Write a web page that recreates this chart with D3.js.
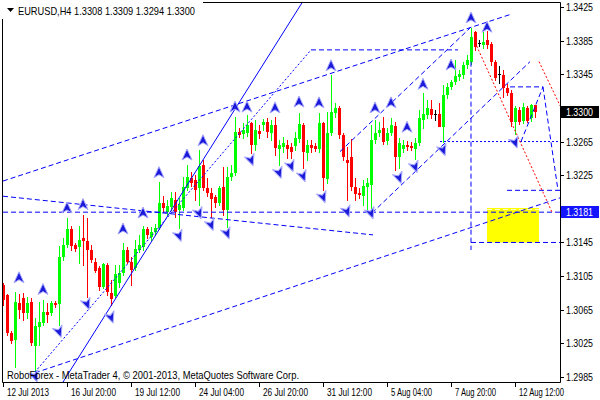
<!DOCTYPE html>
<html><head><meta charset="utf-8">
<script src="https://cdn.jsdelivr.net/npm/d3@7/dist/d3.min.js"></script>
<style>body{margin:0;background:#fff}svg{display:block}</style>
</head><body>
<svg id="c" width="600" height="400"></svg>
<script>
// ---------- DATA ----------
const headerText = "EURUSD,H4  1.3308 1.3309 1.3294 1.3300";
const footerText = "RoboForex - MetaTrader 4, \u00A9 2001-2013, MetaQuotes Software Corp.";

const opens = [1.3094,1.3083,1.3037,1.3029,1.3073,1.3079,1.3061,1.3074,1.3022,1.3045,
1.3049,1.3062,1.3061,1.3073,1.3072,1.3128,1.3142,1.3161,1.3142,1.3139,
1.3150,1.3147,1.3136,1.3122,1.3115,1.3092,1.3118,1.3085,1.3081,1.3097,
1.3109,1.3136,1.3122,1.3115,1.3136,1.3140,1.3161,1.3152,1.3158,1.3162,
1.3192,1.3181,1.3187,1.3196,1.3184,1.3186,1.3210,1.3222,1.3219,1.3210,
1.3237,1.3210,1.3204,1.3199,1.3192,1.3211,1.3184,1.3223,1.3228,1.3276,
1.3274,1.3275,1.3287,1.3261,1.3277,1.3285,1.3288,1.3275,1.3285,1.3256,
1.3259,1.3261,1.3259,1.3260,1.3268,1.3285,1.3251,1.3261,1.3260,1.3256,
1.3287,1.3221,1.3275,1.3299,1.3305,1.3273,1.3243,1.3247,1.3211,1.3204,
1.3200,1.3211,1.3213,1.3267,1.3275,1.3281,1.3266,1.3275,1.3284,1.3247,
1.3256,1.3261,1.3260,1.3256,1.3263,1.3291,1.3297,1.3304,1.3298,1.3298,
1.3282,1.3320,1.3330,1.3336,1.3342,1.3344,1.3356,1.3360,1.3395,1.3382,
1.3380,1.3386,1.3381,1.3360,1.3345,1.3344,1.3329,1.3323,1.3288,1.3302,
1.3289,1.3305,1.3293,1.3308];
const highs = [1.3097,1.3084,1.3040,1.3086,1.3084,1.3085,1.3080,1.3079,1.3055,1.3074,
1.3077,1.3073,1.3075,1.3075,1.3141,1.3150,1.3174,1.3164,1.3144,1.3164,
1.3178,1.3174,1.3142,1.3127,1.3117,1.3121,1.3121,1.3100,1.3118,1.3118,
1.3144,1.3139,1.3128,1.3148,1.3154,1.3165,1.3163,1.3163,1.3167,1.3217,
1.3200,1.3196,1.3205,1.3205,1.3198,1.3223,1.3237,1.3229,1.3225,1.3255,
1.3243,1.3222,1.3210,1.3202,1.3212,1.3235,1.3235,1.3237,1.3294,1.3281,
1.3287,1.3296,1.3288,1.3291,1.3285,1.3292,1.3293,1.3291,1.3294,1.3267,
1.3270,1.3267,1.3263,1.3276,1.3299,1.3287,1.3267,1.3267,1.3263,1.3299,
1.3288,1.3300,1.3344,1.3311,1.3307,1.3275,1.3259,1.3268,1.3222,1.3210,
1.3219,1.3222,1.3285,1.3291,1.3288,1.3294,1.3281,1.3293,1.3288,1.3269,
1.3267,1.3266,1.3265,1.3269,1.3303,1.3323,1.3314,1.3314,1.3303,1.3311,
1.3332,1.3335,1.3338,1.3362,1.3350,1.3360,1.3368,1.3400,1.3396,1.3386,
1.3395,1.3396,1.3383,1.3362,1.3355,1.3350,1.3333,1.3326,1.3307,1.3306,
1.3311,1.3307,1.3310,1.3309];
const lows = [1.3071,1.3035,1.3026,1.2997,1.3055,1.3053,1.3055,1.3023,1.2991,1.3023,
1.3047,1.3050,1.3059,1.3068,1.3047,1.3124,1.3140,1.3136,1.3135,1.3121,
1.3118,1.3080,1.3122,1.3110,1.3089,1.3091,1.3083,1.3071,1.3080,1.3092,
1.3106,1.3121,1.3094,1.3112,1.3134,1.3136,1.3150,1.3148,1.3154,1.3161,
1.3181,1.3178,1.3184,1.3175,1.3162,1.3184,1.3207,1.3212,1.3196,1.3190,
1.3207,1.3200,1.3175,1.3187,1.3190,1.3178,1.3163,1.3219,1.3225,1.3270,
1.3269,1.3272,1.3251,1.3255,1.3269,1.3279,1.3270,1.3267,1.3249,1.3237,
1.3253,1.3245,1.3245,1.3255,1.3265,1.3234,1.3243,1.3253,1.3254,1.3253,
1.3207,1.3216,1.3273,1.3294,1.3269,1.3243,1.3196,1.3207,1.3196,1.3198,
1.3190,1.3184,1.3186,1.3263,1.3272,1.3262,1.3262,1.3273,1.3231,1.3234,
1.3253,1.3255,1.3255,1.3244,1.3261,1.3281,1.3293,1.3293,1.3291,1.3287,
1.3265,1.3317,1.3327,1.3333,1.3338,1.3341,1.3352,1.3357,1.3374,1.3379,
1.3376,1.3376,1.3356,1.3338,1.3335,1.3318,1.3320,1.3284,1.3274,1.3286,
1.3287,1.3288,1.3290,1.3294];
const closes = [1.3077,1.3037,1.3028,1.3074,1.3065,1.3061,1.3073,1.3026,1.3046,1.3050,
1.3062,1.3059,1.3073,1.3071,1.3128,1.3142,1.3161,1.3141,1.3137,1.3148,
1.3147,1.3136,1.3124,1.3111,1.3092,1.3119,1.3086,1.3078,1.3108,1.3109,
1.3136,1.3122,1.3112,1.3137,1.3142,1.3161,1.3154,1.3158,1.3162,1.3192,
1.3186,1.3188,1.3198,1.3181,1.3190,1.3211,1.3223,1.3216,1.3207,1.3236,
1.3210,1.3204,1.3197,1.3192,1.3210,1.3184,1.3223,1.3228,1.3276,1.3273,
1.3279,1.3285,1.3261,1.3279,1.3274,1.3288,1.3276,1.3285,1.3257,1.3261,
1.3263,1.3256,1.3253,1.3269,1.3286,1.3253,1.3261,1.3257,1.3256,1.3287,
1.3222,1.3275,1.3300,1.3305,1.3273,1.3247,1.3240,1.3211,1.3203,1.3202,
1.3212,1.3216,1.3267,1.3275,1.3279,1.3265,1.3275,1.3285,1.3247,1.3263,
1.3261,1.3259,1.3257,1.3263,1.3293,1.3298,1.3305,1.3297,1.3298,1.3282,
1.3320,1.3330,1.3336,1.3343,1.3345,1.3356,1.3362,1.3389,1.3377,1.3382,
1.3383,1.3380,1.3360,1.3341,1.3345,1.3329,1.3323,1.3288,1.3305,1.3288,
1.3306,1.3290,1.3308,1.3300];

const priceTicks = [1.2985,1.3025,1.3065,1.3105,1.3145,1.3185,1.3225,1.3265,1.3305,1.3345,1.3385,1.3425];
const timeTickBars = [0,16,32,48,64,80,96,112,128];
const timeTickLabels = ["12 Jul 2013","16 Jul 20:00","19 Jul 12:00","24 Jul 04:00","26 Jul 20:00","31 Jul 12:00","5 Aug 04:00","7 Aug 20:00","12 Aug 12:00"];

const currentPrice = 1.3300;
const levelPrice = 1.3181;

// [bar, price]
const upArrows = [[4,1.3103],[10,1.3089],[16,1.3186],[20,1.3190],[30,1.3161],[35,1.3180],[39,1.3228],
[46,1.3249],[50,1.3266],[58,1.3306],[61,1.3306],[68,1.3305],[74,1.3312],[79,1.3311],[82,1.3355],
[93,1.3305],[97,1.3311],[101,1.3282],[105,1.3333],[112,1.3356],[117,1.3412],[121,1.3401]];
const downArrows = [[8,1.2986],[14,1.3039],[21,1.3072],[27,1.3056],[44,1.3153],[49,1.3180],[52,1.3166],
[56,1.3156],[62,1.3243],[69,1.3228],[72,1.3236],[75,1.3224],[80,1.3199],[86,1.3182],[92,1.3180],
[99,1.3222],[103,1.3235],[110,1.3255],[128,1.3264]];

// lines: [bar1, price1, bar2, price2]
const solidLines = [[15,1.2979,74.75,1.3430]];
const dottedLines = [[8,1.2991,77,1.3374],[109.25,1.3265,139.25,1.3265]];
const dashedLines = [
 [77,1.3374,113.75,1.3374],
 [0,1.3218,126.75,1.3416],
 [8,1.2990,139.25,1.3198],
 [0,1.3181,139.25,1.3181],
 [0,1.3200,92.5,1.3154],
 [117,1.3360,117,1.3136],
 [117,1.3145,139.25,1.3145],
 [126,1.3207,139.25,1.3207],
 [84.25,1.3253,116.75,1.3400],
 [92.25,1.3180,131.75,1.3360],
 [126.75,1.3330,135,1.3330],
 [129.5,1.3265,135,1.3330],
 [135,1.3330,138.75,1.3207]
];
const redDottedLines = [[118,1.3383,137.25,1.3181],[134,1.3360,139.75,1.3303]];
const targetZone = [121,134,1.3186,1.3145];

// ---------- DRAW ----------
const svg = d3.select("#c");
const font = "'Liberation Sans', Arial, sans-serif";
const L = 3, R = 560, T = 3, B = 382;
const x = d3.scaleLinear().domain([0,1]).range([3,7]);
const y = d3.scaleLinear().domain([1.2985,1.3425]).range([377,7]);

svg.append("rect").attr("width",600).attr("height",400).attr("fill","#fff");

svg.append("defs").append("clipPath").attr("id","plot")
  .append("rect").attr("x",L).attr("y",T).attr("width",R-L).attr("height",B-T);

const plot = svg.append("g").attr("clip-path","url(#plot)");

// target zone
plot.append("rect")
  .attr("x",x(targetZone[0])).attr("y",y(targetZone[2]))
  .attr("width",x(targetZone[1])-x(targetZone[0]))
  .attr("height",y(targetZone[3])-y(targetZone[2]))
  .attr("fill","#ffff00");
plot.append("line")
  .attr("x1",x(targetZone[0])).attr("x2",x(targetZone[1]))
  .attr("y1",Math.round(y(targetZone[2]))+1.5).attr("y2",Math.round(y(targetZone[2]))+1.5)
  .attr("stroke","#ffffc0").attr("stroke-dasharray","5,3");

// candles
const candles = plot.append("g");
opens.forEach((o,i)=>{
  const c = closes[i];
  const cx = Math.round(x(i));
  const col = c>o ? "#00ff00" : (c<o ? "#ff0000" : "#000000");
  candles.append("line").attr("x1",cx+0.5).attr("x2",cx+0.5)
    .attr("y1",Math.round(y(highs[i]))).attr("y2",Math.round(y(lows[i]))+1)
    .attr("stroke",col).attr("stroke-width",1);
  const yo = Math.round(y(o)), yc = Math.round(y(c));
  const top = Math.min(yo,yc), h = Math.max(1,Math.abs(yo-yc));
  candles.append("rect").attr("x",cx-1).attr("y",top).attr("width",3).attr("height",h)
    .attr("fill",col);
});

function drawLines(arr, color, dash, w){
  arr.forEach(d=>{
    plot.append("line")
      .attr("x1",x(d[0])).attr("y1",y(d[1]))
      .attr("x2",x(d[2])).attr("y2",y(d[3]))
      .attr("stroke",color).attr("stroke-width",w||1)
      .attr("stroke-dasharray",dash);
  });
}
drawLines(solidLines,"#0000ff",null);
drawLines(dottedLines,"#0000ff","2,2");
drawLines(dashedLines,"#0000ff","5,3");
drawLines(redDottedLines,"#ff0000","2,2");

// arrows
const arrowPath = "M0,-6 L5,5 L0,2 L-5,5 Z";
const ag = plot.append("g");
upArrows.forEach(d=>{
  ag.append("path").attr("d",arrowPath)
    .attr("transform",`translate(${x(d[0])},${y(d[1])})`)
    .attr("fill","#1a1ad8").attr("stroke","#a8a8ff").attr("stroke-width",1)
    .attr("stroke-linejoin","round");
});
downArrows.forEach(d=>{
  ag.append("path").attr("d",arrowPath)
    .attr("transform",`translate(${x(d[0])},${y(d[1])}) rotate(160)`)
    .attr("fill","#1a1ad8").attr("stroke","#a8a8ff").attr("stroke-width",1)
    .attr("stroke-linejoin","round");
});

// frame
svg.append("path")
  .attr("d",`M${L-0.5},${B+0.5} V${T-0.5} H${R+0.5} V${B+0.5} Z`)
  .attr("fill","none").attr("stroke","#000").attr("stroke-width",1);

// header
svg.append("rect").attr("x",0).attr("y",0).attr("width",203).attr("height",19).attr("fill","#fff");
svg.append("path").attr("d","M7,8 L14,8 L10.5,12 Z").attr("fill","#000");
svg.append("text").attr("x",18).attr("y",14.5).text(headerText)
  .attr("font-family",font).attr("font-size",11).attr("fill","#000")
  .attr("textLength",177).attr("lengthAdjust","spacingAndGlyphs");

// footer
svg.append("text").attr("x",7).attr("y",378.5).text(footerText)
  .attr("font-family",font).attr("font-size",11).attr("fill","#000")
  .attr("textLength",292).attr("lengthAdjust","spacingAndGlyphs");

// y axis
const ya = svg.append("g");
const boxed = [currentPrice, levelPrice];
priceTicks.forEach(p=>{
  const yy = Math.round(y(p));
  ya.append("line").attr("x1",R+1).attr("x2",R+4).attr("y1",yy+0.5).attr("y2",yy+0.5).attr("stroke","#000");
  // labels hidden behind the price boxes are not drawn
  if (boxed.some(b=>Math.abs(y(b)-y(p))<10)) return;
  ya.append("text").attr("x",566).attr("y",yy+4).text(p.toFixed(4))
    .attr("font-family",font).attr("font-size",11).attr("fill","#000")
    .attr("textLength",27).attr("lengthAdjust","spacingAndGlyphs");
});
function priceBox(p, fill){
  const yy = Math.round(y(p));
  ya.append("rect").attr("x",R+1).attr("y",yy-6).attr("width",38).attr("height",12).attr("fill",fill);
  ya.append("text").attr("x",566).attr("y",yy+4).text(p.toFixed(4))
    .attr("font-family",font).attr("font-size",11).attr("fill","#fff")
    .attr("textLength",27).attr("lengthAdjust","spacingAndGlyphs");
}
priceBox(currentPrice,"#000000");
priceBox(levelPrice,"#1414ff");

// x axis
const xa = svg.append("g");
timeTickBars.forEach((b,k)=>{
  const xx = Math.round(x(b));
  xa.append("line").attr("x1",xx+0.5).attr("x2",xx+0.5).attr("y1",B).attr("y2",B+5).attr("stroke","#000");
  xa.append("text").attr("x",xx+4).attr("y",396).text(timeTickLabels[k])
    .attr("font-family",font).attr("font-size",11).attr("fill","#000")
    .attr("textLength",k===0?42:(timeTickLabels[k].length===11?41:45)).attr("lengthAdjust","spacingAndGlyphs");
});
</script>
</body></html>
